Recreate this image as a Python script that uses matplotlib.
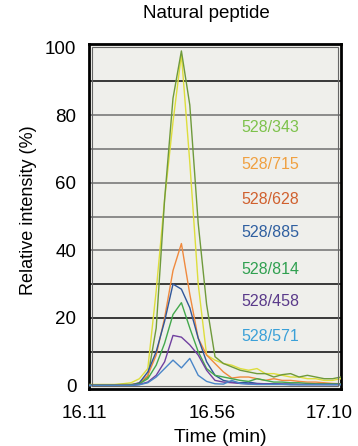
import numpy as np
import matplotlib
matplotlib.use("Agg")
import matplotlib.pyplot as plt
from matplotlib.transforms import ScaledTranslation
from matplotlib.patches import Rectangle

plt.rcParams['font.family'] = ['Liberation Sans', 'DejaVu Sans']

# ---- data ----
t_start = 16.11
t_end = 17.10
n_points = 31
time = np.linspace(t_start, t_end, n_points)

s_343 = [0.2, 0.2, 0.2, 0.2, 0.3, 0.3, 0.6, 2.5, 17, 55, 85, 99, 83, 48, 24, 8.5, 6.5, 5.5, 4.5, 4, 3.5, 3.5, 2.5, 3.2, 3.5, 2.5, 3, 2.5, 2, 2, 2.5]
s_715 = [0.3, 0.3, 0.3, 0.3, 0.5, 0.8, 2, 5, 28, 55, 78, 98, 66, 30, 9, 7.5, 6.5, 6, 5, 4.5, 5, 3.5, 3.5, 3, 2.5, 2.5, 2, 2, 1.5, 1.5, 2]
s_628 = [0, 0, 0, 0, 0.1, 0.2, 0.8, 3, 9, 20, 34, 42, 27, 14, 9, 6.5, 4, 2.2, 2.5, 2.5, 2, 1.5, 2, 1.5, 1.5, 1.2, 1, 1, 0.8, 0.6, 0.5]
s_885 = [0, 0, 0, 0, 0, 0.1, 0.8, 4, 10, 19, 30, 28.5, 23, 14, 7, 3, 1.5, 1, 0.8, 1, 0.6, 0.5, 0.5, 0.4, 0.4, 0.3, 0.3, 0.3, 0.3, 0.3, 0.3]
s_814 = [0, 0, 0, 0, 0, 0.1, 0.5, 2, 6, 12.5, 21, 24.5, 17, 10, 5, 3, 2.5, 2, 1.5, 1.2, 2, 1.5, 1, 1, 0.8, 0.8, 0.6, 0.5, 0.5, 0.5, 0.5]
s_458 = [0, 0, 0, 0, 0, 0, 0.3, 1, 3, 7, 14.8, 14.3, 12, 9, 4.5, 1.5, 1, 0.8, 0.6, 0.5, 0.5, 0.5, 0.4, 0.4, 0.3, 0.3, 0.3, 0.3, 0.3, 0.3, 0.3]
s_571 = [0, 0, 0, 0, 0, 0, 0.2, 0.8, 2.5, 5, 7.5, 5.2, 8, 3, 1.2, 0.5, 0.4, 1.5, 0.6, 0.4, 0.3, 0.3, 0.3, 0.3, 0.2, 0.2, 0.2, 0.2, 0.2, 0.2, 0.2]

labels = ["528/343", "528/715", "528/628", "528/885", "528/814", "528/458", "528/571"]
label_y = [76.4, 65.5, 55.1, 45.2, 34.4, 24.8, 14.4]
xticks = [16.11, 16.56, 17.10]
xticklabels = ["16.11", "16.56", "17.10"]
yticks = [0, 20, 40, 60, 80, 100]

series = [s_343, s_715, s_628, s_885, s_814, s_458, s_571]
line_colors = ["#6f9a3b", "#dede3c", "#f08a3e", "#30569a", "#43a84c", "#7040a0", "#4a86c8"]
label_colors = ["#7dc24b", "#f0a040", "#d0602e", "#2f5fa0", "#30a050", "#5a3a8a", "#3aa0d8"]

# ---- figure ----
W, H = 358, 446
dpi = 100
fig = plt.figure(figsize=(W / dpi, H / dpi), dpi=dpi)
ax_l, ax_r, ax_t, ax_b = 89, 341, 43.5, 388.5
ax = fig.add_axes([ax_l / W, 1 - ax_b / H, (ax_r - ax_l) / W, (ax_b - ax_t) / H])
ax.set_facecolor("#efefeb")

ax.set_xlim(t_start, t_end)
ax.set_ylim(-0.9, 101.2)

# gridlines
for v in range(10, 100, 10):
    c = "#1a1a1a" if v in (10, 20, 30, 90) else "#7a7a7a"
    ax.axhline(v, color=c, lw=1.2, zorder=1)

# line order: draw small ones last
order = [1, 0, 2, 3, 4, 5, 6]
for k in order:
    ax.plot(time, series[k], color=line_colors[k], lw=1.0, zorder=3)

for lab, yy, c in zip(labels, label_y, label_colors):
    ax.text(0.718, yy, lab, color=c, fontsize=11.5, ha="center", va="center",
            transform=ax.get_yaxis_transform(), zorder=4)

for sp in ax.spines.values():
    sp.set_linewidth(2.0)
    sp.set_color("black")
inset_x = 3 / (ax_r - ax_l)
inset_y = 3 / (ax_b - ax_t)
ax.add_patch(Rectangle((inset_x, inset_y), 1 - 2 * inset_x, 1 - 2 * inset_y,
                       transform=ax.transAxes, fill=False, edgecolor="#666666",
                       lw=0.8, zorder=5, clip_on=False))

ax.set_yticks(yticks)
ax.set_yticklabels([str(v) for v in yticks])
ax.set_xticks(xticks)
ax.set_xticklabels(xticklabels)
ax.tick_params(axis="both", length=0, labelsize=13.5)
ax.tick_params(axis="y", pad=9)
ax.tick_params(axis="x", pad=12)
offsets = [-5, 8.5, -12]
for lab, dx in zip(ax.get_xticklabels(), offsets):
    lab.set_transform(lab.get_transform() + ScaledTranslation(dx / dpi, 0, fig.dpi_scale_trans))

ax.set_xlabel("Time (min)", fontsize=14)
ax.xaxis.set_label_coords((220 - ax_l) / (ax_r - ax_l), (ax_b - 438) / (ax_b - ax_t))
ax.xaxis.label.set_va("center")

ax.set_ylabel("Relative intensity (%)", fontsize=13)
ax.yaxis.set_label_coords((29 - ax_l) / (ax_r - ax_l), (ax_b - 210) / (ax_b - ax_t))
ax.yaxis.label.set_va("center")

title = ax.set_title("Natural peptide", fontsize=13.5,
                     x=(206 - ax_l) / (ax_r - ax_l), y=(ax_b - 22) / (ax_b - ax_t))
title.set_va("center")

fig.savefig("out.png", dpi=dpi)
